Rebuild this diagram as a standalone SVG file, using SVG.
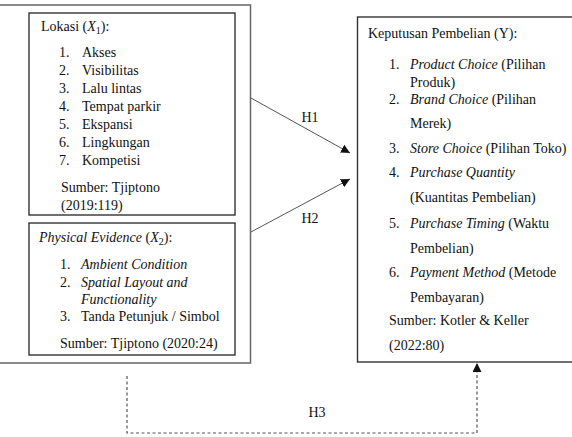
<svg xmlns="http://www.w3.org/2000/svg" width="572" height="437" viewBox="0 0 572 437">
<style>
text{font-family:"Liberation Serif","Times New Roman",serif;font-size:14px;fill:#111}
.i{font-style:italic}
.box{fill:none;stroke:#333;stroke-width:1.4}
.frame{fill:none;stroke:#666;stroke-width:1.5}
.con{fill:none;stroke:#555;stroke-width:1}
.dash{fill:none;stroke:#555;stroke-width:1.2;stroke-dasharray:3,2.5}
.sub{font-size:10px}
</style>
<defs>
<marker id="ah" viewBox="0 0 10 10" refX="10" refY="5" markerWidth="9" markerHeight="9" markerUnits="userSpaceOnUse" orient="auto">
<path d="M0,0L10,5L0,10z" fill="#111"/>
</marker>
</defs>
<rect x="-5" y="5" width="255.5" height="358" class="frame"/>
<g id="lokasi">
<rect x="29" y="13" width="206" height="202" class="box"/>
<text x="41" y="31">Lokasi (<tspan class="i">X</tspan><tspan class="sub" dy="3">1</tspan><tspan dy="-3">):</tspan></text>
<text x="59" y="57">1.</text><text x="82" y="57">Akses</text>
<text x="59" y="75">2.</text><text x="82" y="75">Visibilitas</text>
<text x="59" y="93">3.</text><text x="82" y="93">Lalu lintas</text>
<text x="59" y="111">4.</text><text x="82" y="111">Tempat parkir</text>
<text x="59" y="129">5.</text><text x="82" y="129">Ekspansi</text>
<text x="59" y="147">6.</text><text x="82" y="147">Lingkungan</text>
<text x="59" y="165">7.</text><text x="82" y="165">Kompetisi</text>
<text x="61" y="192">Sumber: Tjiptono</text>
<text x="61" y="210">(2019:119)</text>
</g>
<g id="physical">
<rect x="29" y="223" width="206" height="132" class="box"/>
<text x="39" y="242"><tspan class="i">Physical Evidence</tspan> (<tspan class="i">X</tspan><tspan class="sub" dy="3">2</tspan><tspan dy="-3">):</tspan></text>
<text x="60" y="269">1.</text><text x="81" y="269" class="i">Ambient Condition</text>
<text x="60" y="287">2.</text><text x="81" y="287" class="i">Spatial Layout and</text>
<text x="81" y="304" class="i">Functionality</text>
<text x="60" y="321">3.</text><text x="81" y="321">Tanda Petunjuk / Simbol</text>
<text x="60" y="348">Sumber: Tjiptono (2020:24)</text>
</g>
<g id="keputusan">
<rect x="357.5" y="17" width="230" height="345" class="box"/>
<text x="368" y="38">Keputusan Pembelian (Y):</text>
<text x="389" y="69">1.</text><text x="410" y="69"><tspan class="i">Product Choice</tspan> (Pilihan</text>
<text x="410" y="87">Produk)</text>
<text x="389" y="104">2.</text><text x="410" y="104"><tspan class="i">Brand Choice</tspan> (Pilihan</text>
<text x="410" y="128">Merek)</text>
<text x="389" y="153">3.</text><text x="410" y="153"><tspan class="i">Store Choice</tspan> (Pilihan Toko)</text>
<text x="389" y="177">4.</text><text x="410" y="177" class="i">Purchase Quantity</text>
<text x="410" y="202">(Kuantitas Pembelian)</text>
<text x="389" y="228">5.</text><text x="410" y="228"><tspan class="i">Purchase Timing</tspan> (Waktu</text>
<text x="410" y="253">Pembelian)</text>
<text x="389" y="277">6.</text><text x="410" y="277"><tspan class="i">Payment Method</tspan> (Metode</text>
<text x="410" y="302">Pembayaran)</text>
<text x="389" y="325">Sumber: Kotler &amp; Keller</text>
<text x="389" y="350">(2022:80)</text>
</g>
<g id="connectors">
<line x1="251" y1="98" x2="350" y2="153" class="con" marker-end="url(#ah)"/>
<line x1="251" y1="232" x2="350" y2="179" class="con" marker-end="url(#ah)"/>
<path d="M127,376V433H477V363" class="dash" marker-end="url(#ah)"/>
<text x="310" y="122" text-anchor="middle">H1</text>
<text x="310" y="223" text-anchor="middle">H2</text>
<text x="317" y="417" text-anchor="middle">H3</text>
</g>
</svg>
